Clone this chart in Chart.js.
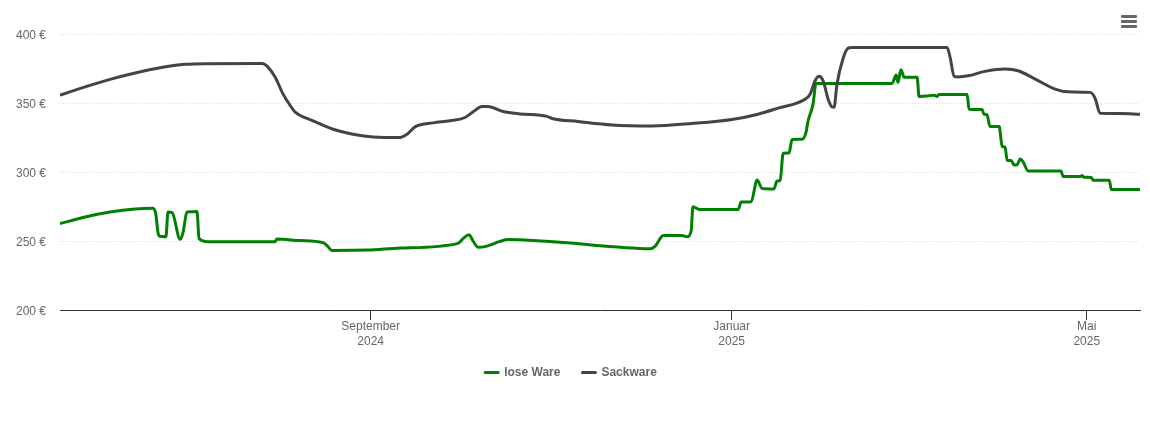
<!DOCTYPE html>
<html lang="de">
<head>
<meta charset="utf-8">
<title>Preisentwicklung</title>
<script src="https://cdn.jsdelivr.net/npm/chart.js@4"></script>
<style>
    html, body { margin: 0; padding: 0; background: #fff; }
    #wrap { position: relative; width: 1150px; height: 438px; }
    #menu { position: absolute; left: 1121px; top: 15px; width: 16px; }
    #menu span { display: block; height: 3px; margin-bottom: 2px; background: #666; border-radius: 1px; }
</style>
</head>
<body>
<div id="wrap">
    <canvas id="preisChart" width="1150" height="438"></canvas>
    <div id="menu"><span></span><span></span><span></span></div>
</div>
<script>
// Tage seit dem 19.05.2024, Preise in Euro
const loseDays = [0, 8.5, 16.9, 25.4, 31.4, 32.4, 33.1, 33.7, 35.8, 36.5, 37.9, 40.6, 41.6, 42.9, 46.3, 47, 50, 72.7, 73.3, 81.1, 88.9, 90.2, 91.9, 103.8, 114.9, 134.5, 136.2, 138.2, 139.6, 141.3, 144.3, 148.7, 151.4, 159.9, 171.4, 182.5, 193.7, 199.4, 201.1, 202.8, 203.8, 210.2, 211.9, 213.3, 213.9, 216, 229.2, 230.2, 233.6, 235.6, 237.3, 241.3, 242.3, 243.4, 244.4, 246.4, 247.4, 250.8, 252.1, 252.8, 254.5, 255.5, 281.2, 282.6, 283.2, 284.2, 285.3, 289.7, 290.3, 293, 295.4, 296.4, 297.1, 306.6, 307.2, 311.6, 312.3, 313.3, 314.3, 317.4, 318.4, 319.4, 320.1, 321.4, 322.5, 323.5, 324.5, 325.5, 327.2, 338.3, 339, 344.8, 345.4, 346.1, 348.5, 349.2, 354.6, 355.3, 365];
const loseValues = [262.6, 267.4, 271, 273.2, 273.7, 269.3, 256.3, 253.4, 253.1, 271, 270.6, 251.2, 256.3, 271, 271.3, 251.7, 249.5, 249.5, 251.4, 250.3, 248.8, 246.8, 243.2, 243.4, 244.9, 248.3, 251.7, 254.6, 250, 245.4, 246.3, 249.7, 251, 250.4, 248.8, 246.6, 244.9, 244.4, 246.1, 251.7, 254, 254, 253.1, 257.2, 274.9, 272.9, 272.9, 278.2, 278.5, 294.2, 288, 287.7, 293.5, 293.8, 313.6, 313.8, 323.6, 323.8, 328.6, 336.8, 349.2, 364.2, 364.2, 370.2, 364.9, 374.1, 368.6, 368.6, 354.8, 355, 355.7, 354.8, 356.1, 356.1, 345.5, 345.3, 341.9, 341.4, 333, 333, 318.5, 318, 308.5, 308.3, 305.1, 305.4, 309.5, 307.3, 300.8, 300.8, 296.7, 296.7, 297.4, 296.2, 296, 294, 294, 287.3, 287.3];

const sackDays = [0, 8.5, 16.9, 25.4, 33.8, 42.3, 49, 68.3, 70.3, 72.7, 75.4, 77.7, 79.4, 85.5, 92.3, 99, 105.8, 114.9, 117.3, 120, 126.1, 131.8, 136.9, 139.6, 142.6, 144.6, 149.7, 155.5, 164.6, 166.3, 175.1, 186.6, 200.1, 213.6, 227.1, 235.9, 242.7, 251.8, 253.5, 255.2, 256.5, 257.9, 259.6, 260.9, 261.6, 262.6, 264.6, 266.3, 267.7, 299.8, 300.8, 302.2, 303.5, 306.9, 312.6, 319.4, 323.8, 329.6, 336.3, 340.7, 348.1, 349.8, 351.5, 358.3, 365];
const sackValues = [355.7, 361.7, 367.1, 371.7, 375.5, 378, 378.5, 378.6, 376, 368.8, 356.4, 348.5, 343.6, 337.1, 331, 327.4, 325.4, 325, 327.4, 332.7, 335.6, 337.1, 339.5, 343.6, 347.5, 347.5, 343.9, 342.1, 340.3, 338.8, 336.6, 334.1, 333.4, 335.2, 338.1, 341.9, 346.3, 352.8, 356.4, 366.1, 369.3, 366.1, 352.8, 347.2, 347, 363.7, 381.9, 389.6, 390.3, 390.3, 383.3, 369.3, 368.9, 369.7, 372.9, 374.6, 373.4, 367.3, 360.1, 358.1, 357.7, 353.6, 342.6, 342.4, 341.9];

const xTickDays = [105, 227, 347];
const xTickLabels = [['September', '2024'], ['Januar', '2025'], ['Mai', '2025']];
const yTicks = [200, 250, 300, 350, 400];

const FONT = '"Liberation Sans", Arial, sans-serif';

function toPoints(days, values) {
    return days.map((d, i) => ({ x: d, y: values[i] }));
}

// Die zweite Zeile der Monatsnamen reicht bis in den Legendenbereich, sonst wird sie abgeschnitten
const xLabelRoom = {
    id: 'xLabelRoom',
    afterLayout(chart) {
        chart.scales.x.bottom = chart.height;
    }
};

new Chart(document.getElementById('preisChart'), {
    type: 'line',
    plugins: [xLabelRoom],
    data: {
        datasets: [
            {
                label: 'lose Ware',
                data: toPoints(loseDays, loseValues),
                borderColor: '#008000',
                backgroundColor: '#008000',
                order: 1
            },
            {
                label: 'Sackware',
                data: toPoints(sackDays, sackValues),
                borderColor: '#434348',
                backgroundColor: '#434348',
                order: 0
            }
        ]
    },
    options: {
        responsive: false,
        animation: false,
        layout: { padding: { top: 34, left: 2, right: 10, bottom: 49.5 } },
        elements: {
            point: { radius: 0 },
            line: { borderWidth: 3, cubicInterpolationMode: 'monotone', borderJoinStyle: 'round' }
        },
        scales: {
            x: {
                type: 'linear',
                min: 0,
                max: 365,
                afterFit: scale => { scale.height = 34.5; },
                afterBuildTicks: scale => { scale.ticks = xTickDays.map(v => ({ value: v })); },
                border: { color: '#333', width: 1 },
                grid: { drawOnChartArea: false, drawTicks: true, tickLength: 10, tickColor: '#333', tickWidth: 1 },
                ticks: {
                    autoSkip: false,
                    maxRotation: 0,
                    padding: -0.5,
                    color: '#666',
                    font: { family: FONT, size: 12, lineHeight: 1.25 },
                    callback: value => xTickLabels[xTickDays.indexOf(value)]
                }
            },
            y: {
                min: 200,
                max: 400,
                afterFit: scale => { scale.width = 58; },
                afterBuildTicks: scale => { scale.ticks = yTicks.map(v => ({ value: v })); },
                border: { display: false, dash: [1, 2] },
                grid: { color: '#d8d8d8', drawTicks: false, lineWidth: 1 },
                ticks: {
                    padding: 14,
                    color: '#666',
                    // leere erste Zeile mit kleiner Zeilenhöhe: Beschriftung sitzt 2px tiefer
                    font: { family: FONT, size: 12, lineHeight: '4px' },
                    callback: value => ['', value + ' €']
                }
            }
        },
        plugins: {
            tooltip: { enabled: false },
            legend: {
                position: 'bottom',
                labels: {
                    // nur die Kontur des Kästchens (3px) bleibt sichtbar, das ergibt den Strich
                    boxWidth: 13,
                    boxHeight: 0.01,
                    padding: 22,
                    color: '#666',
                    font: { family: FONT, size: 12, weight: 'bold' },
                    sort: (a, b) => a.datasetIndex - b.datasetIndex
                }
            }
        }
    }
});
</script>
</body>
</html>
